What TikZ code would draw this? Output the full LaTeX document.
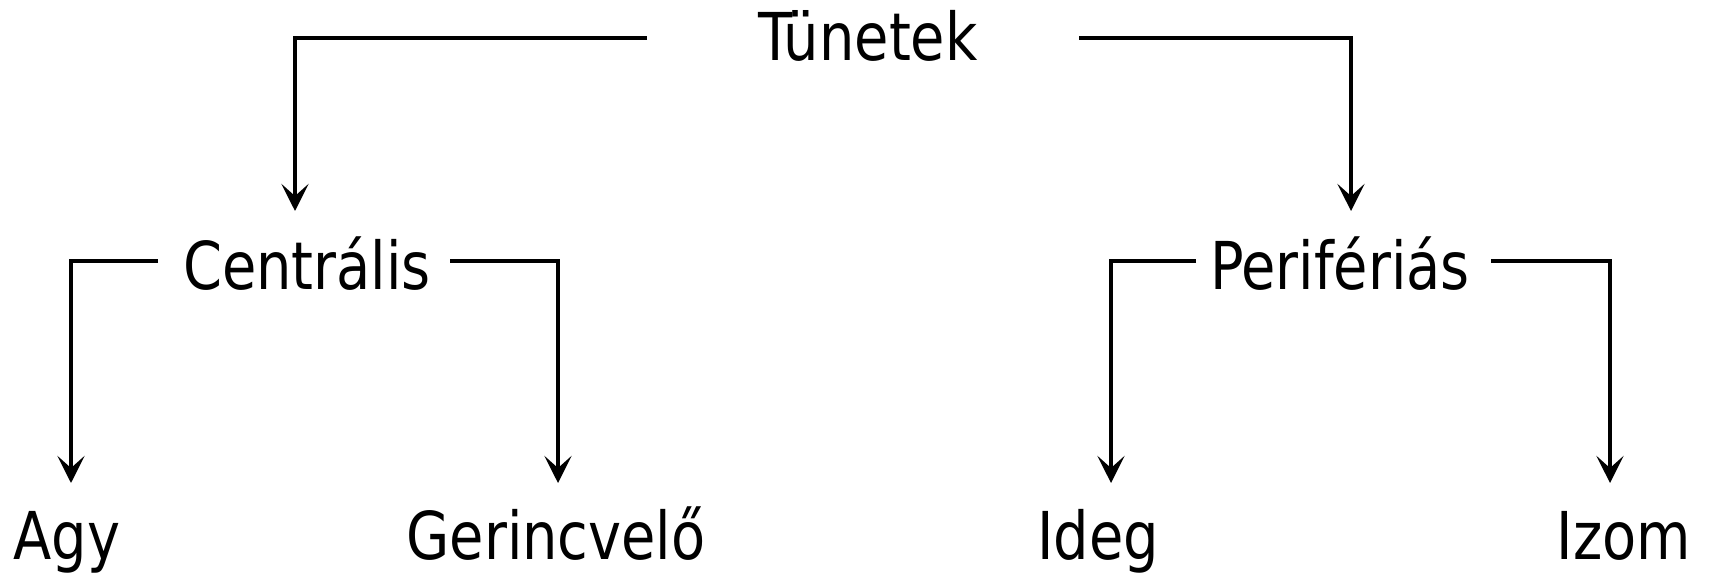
\documentclass[tikz,border=0pt]{standalone}
\usepackage{fontspec}
\setmainfont[FakeStretch=0.94]{DejaVu Sans Condensed}
\usetikzlibrary{arrows.meta}
\begin{document}
\begin{tikzpicture}[x=1pt,y=-1pt,
  lbl/.style={inner sep=0pt,anchor=base,font=\fontsize{66}{72}\selectfont},
  conn/.style={draw=black,line width=4.7pt,line join=miter,
    -{Stealth[length=27pt,width=27pt,inset=12pt]}}]
\useasboundingbox (0,0) rectangle (1713,573);

% labels
\node[lbl] (tun) at (868,60)  {Tünetek};
\node[lbl] (cen) at (307,289) {Centrális};
\node[lbl] (per) at (1340,289) {Perifériás};
\node[lbl] (agy) at (67,559)  {Agy};
\node[lbl] (ger) at (556,559) {Gerincvelő};
\node[lbl] (ide) at (1098,559) {Ideg};
\node[lbl] (izo) at (1624,559) {Izom};

% start points of the connectors, beside each parent label
\coordinate (tunL) at (647,38);
\coordinate (tunR) at (1079,38);
\coordinate (cenL) at (158,261);
\coordinate (cenR) at (450,261);
\coordinate (perL) at (1196,261);
\coordinate (perR) at (1491,261);

% arrow tips above each child label
\coordinate (cenT) at (295,211);
\coordinate (perT) at (1351,211);
\coordinate (agyT) at (71,483);
\coordinate (gerT) at (558,483);
\coordinate (ideT) at (1111,483);
\coordinate (izoT) at (1610,483);

% connectors
\draw[conn] (tunL) -| (cenT);
\draw[conn] (tunR) -| (perT);
\draw[conn] (cenL) -| (agyT);
\draw[conn] (cenR) -| (gerT);
\draw[conn] (perL) -| (ideT);
\draw[conn] (perR) -| (izoT);
\end{tikzpicture}
\end{document}
